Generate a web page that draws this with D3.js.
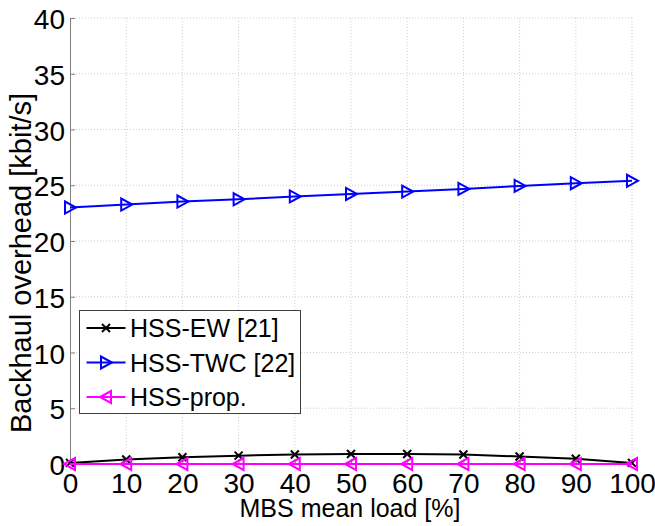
<!DOCTYPE html>
<html>
<head>
<meta charset="utf-8">
<script src="https://cdn.jsdelivr.net/npm/d3@7"></script>
<style>
  html, body { margin: 0; padding: 0; background: #fff; }
  svg { display: block; }
  text { font-family: Arial, "Liberation Sans", sans-serif; fill: #000; }
</style>
</head>
<body>
<svg id="chart" width="655" height="526"></svg>
<script>
// MBS load on x, backhaul overhead per scheme on y
const loads = [0, 10, 20, 30, 40, 50, 60, 70, 80, 90, 100];
const hssEW = [0.1, 0.4, 0.6, 0.75, 0.85, 0.9, 0.9, 0.85, 0.67, 0.47, 0.1];
const hssTWC = [23.0, 23.27, 23.54, 23.74, 24.0, 24.22, 24.43, 24.67, 24.94, 25.18, 25.4];
const hssProp = [0, 0, 0, 0, 0, 0, 0, 0, 0, 0, 0];
const xTicks = [0, 10, 20, 30, 40, 50, 60, 70, 80, 90, 100];
const yTicks = [0, 5, 10, 15, 20, 25, 30, 35, 40];
const seriesNames = ['HSS-EW [21]', 'HSS-TWC [22]', 'HSS-prop.'];

(function () {
  const svg = d3.select('#chart');
  const pLeft = 70, pRight = 632, pTop = 18, pBottom = 464;

  const x = d3.scaleLinear().domain([0, 100]).range([pLeft, pRight]);
  const y = d3.scaleLinear().domain([0, 40]).range([pBottom, pTop]);

  const TICK_FS = 28;
  const FS = 25;

  // grid
  const grid = svg.append('g').attr('class', 'grid');
  grid.selectAll('line.gx').data(xTicks.slice(1)).enter().append('line')
    .attr('x1', d => x(d)).attr('x2', d => x(d))
    .attr('y1', pTop).attr('y2', pBottom)
    .attr('stroke', '#cfcfcf').attr('stroke-width', 1).attr('stroke-dasharray', '1,2');
  grid.selectAll('line.gy').data(yTicks.slice(1)).enter().append('line')
    .attr('x1', pLeft).attr('x2', pRight)
    .attr('y1', d => y(d)).attr('y2', d => y(d))
    .attr('stroke', '#cfcfcf').attr('stroke-width', 1).attr('stroke-dasharray', '1,2');

  // axes (ticks point inward, MATLAB style)
  const xAxis = svg.append('g').attr('transform', `translate(0,${pBottom})`)
    .call(d3.axisBottom(x).tickValues(xTicks).tickSize(-5).tickFormat(d3.format('d')));
  const yAxis = svg.append('g').attr('transform', `translate(${pLeft},0)`)
    .call(d3.axisLeft(y).tickValues(yTicks).tickSize(-5).tickPadding(5).tickFormat(d3.format('d')));

  [xAxis, yAxis].forEach(a => {
    a.select('.domain').attr('stroke', '#808080').attr('stroke-width', 1);
    a.selectAll('.tick line').attr('stroke', '#808080');
    a.selectAll('.tick text').attr('font-size', TICK_FS)
      .attr('font-family', 'Arial, "Liberation Sans", sans-serif').attr('fill', '#000');
  });
  xAxis.selectAll('.tick text').attr('y', 29).attr('dy', 0);
  yAxis.selectAll('.tick text').attr('dy', '0.38em');

  // axis titles
  svg.append('text')
    .attr('x', 350).attr('y', 517)
    .attr('text-anchor', 'middle').attr('font-size', FS)
    .text('MBS mean load [%]');
  svg.append('text')
    .attr('transform', 'translate(31,263) rotate(-90)')
    .attr('text-anchor', 'middle').attr('font-size', 29)
    .text('Backhaul overhead [kbit/s]');

  // markers
  function markX(g, color) {
    g.append('path').attr('d', 'M-4,-4L4,4M-4,4L4,-4')
      .attr('stroke', color).attr('stroke-width', 2).attr('fill', 'none');
  }
  function markRight(g, color) {
    g.append('path').attr('d', 'M-5,-6L-5,6L6,0Z')
      .attr('stroke', color).attr('stroke-width', 2).attr('fill', 'none');
  }
  function markLeft(g, color) {
    g.append('path').attr('d', 'M5,-6L5,6L-6,0Z')
      .attr('stroke', color).attr('stroke-width', 2).attr('fill', 'none');
  }

  const series = [
    { name: seriesNames[0], values: hssEW, color: '#000000', marker: markX },
    { name: seriesNames[1], values: hssTWC, color: '#0000ff', marker: markRight },
    { name: seriesNames[2], values: hssProp, color: '#ff00ff', marker: markLeft },
  ];

  const line = d3.line().x((d, i) => x(loads[i])).y(d => y(d));

  series.forEach(s => {
    const g = svg.append('g');
    g.append('path').datum(s.values).attr('d', line)
      .attr('fill', 'none').attr('stroke', s.color).attr('stroke-width', 2);
    s.values.forEach((v, i) => {
      const m = g.append('g').attr('transform', `translate(${x(loads[i])},${y(v)})`);
      s.marker(m, s.color);
    });
  });

  // legend
  const lg = svg.append('g').attr('transform', 'translate(79.5,310.5)');
  lg.append('rect').attr('width', 221).attr('height', 103)
    .attr('fill', '#fff').attr('stroke', '#404040').attr('stroke-width', 1);
  series.forEach((s, i) => {
    const cy = 17.5 + i * 34.5;
    lg.append('line').attr('x1', 7).attr('x2', 46).attr('y1', cy).attr('y2', cy)
      .attr('stroke', s.color).attr('stroke-width', 2);
    s.marker(lg.append('g').attr('transform', `translate(26.5,${cy})`), s.color);
    lg.append('text').attr('x', 50.5).attr('y', cy + 9)
      .attr('font-size', FS).text(s.name);
  });
})();
</script>
</body>
</html>
